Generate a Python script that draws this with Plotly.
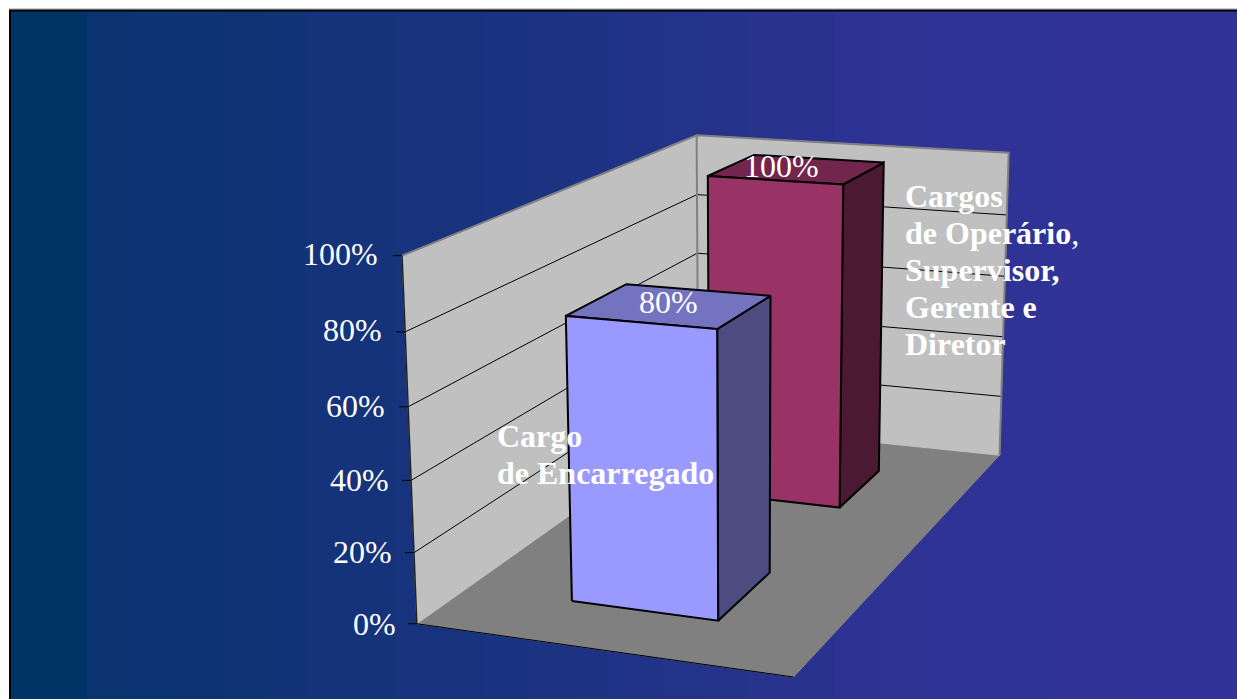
import numpy as np
import plotly.graph_objects as go

# ---- data ----
categories = ["Cargo de Encarregado", "Cargos de Operário, Supervisor, Gerente e Diretor"]
values = [80, 100]
value_labels = ["80%", "100%"]
tick_values = [0, 20, 40, 60, 80, 100]
tick_labels = ["0%", "20%", "40%", "60%", "80%", "100%"]
label_lines_1 = ["<b>Cargo</b>", "<b>de Encarregado</b>"]
label_lines_2 = ["<b>Cargos</b>", "<b>de Operário</b>,", "<b>Supervisor,</b>",
                 "<b>Gerente e</b>", "<b>Diretor</b>"]

# ---- style ----
FONT = "Liberation Serif, Times New Roman, serif"
FS = 32
FRONT = ["#9999FF", "#993366"]
TOP = ["#7373BF", "#73264D"]
SIDE = ["#4C4C80", "#4C1933"]
WALL = "#C0C0C0"
FLOOR = "#808080"

# ---- 3D view: box coordinates (u across, v depth, w height) to picture axes ----
calib_box = [(0, 0, 0), (1, 0, 0), (0, 1, 0), (1, 1, 0), (0, 0, 1), (0, 1, 1), (1, 1, 1),
             (0.297, 0.148, 0.8), (0.7, 0.148, 0.8), (0.7, 0.346, 0.8),
             (0.297, 0.654, 1), (0.7, 0.654, 1), (0.7, 0.851, 1),
             (0.297, 0.148, 0), (0.7, 0.148, 0), (0.7, 0.346, 0), (0.7, 0.654, 0), (0.7, 0.851, 0)]
calib_pic = [(417, 624), (793, 676), (699, 421.5), (1000, 457), (400, 257), (696, 136), (1008, 152),
             (568, 317), (719, 327), (772, 295),
             (708, 176), (842, 184), (884, 163),
             (572, 602), (718, 620), (768, 573), (838, 508), (880, 472)]
rows = []
for (u, v, w), (px, py) in zip(calib_box, calib_pic):
    rows.append([u, v, w, 1, 0, 0, 0, 0, -px * u, -px * v, -px * w, -px])
    rows.append([0, 0, 0, 0, u, v, w, 1, -py * u, -py * v, -py * w, -py])
P = np.linalg.svd(np.array(rows, float))[2][-1].reshape(3, 4)


def proj(u, v, w):
    x, y, s = P @ np.array([u, v, w, 1.0])
    return x / s, y / s


def poly(points, fill=None, line="black", width=2, closed=True):
    pts = [proj(*p) for p in points]
    if closed:
        pts.append(pts[0])
    return go.Scatter(x=[p[0] for p in pts], y=[p[1] for p in pts], mode="lines",
                      fill="toself" if fill else None, fillcolor=fill,
                      line=dict(color=line, width=width), hoverinfo="skip",
                      showlegend=False)


fig = go.Figure()

# floor and walls
fig.add_trace(poly([(0, 0, 0), (1, 0, 0), (1, 1, 0), (0, 1, 0)], FLOOR, FLOOR, 1))
fig.add_trace(poly([(0, 0, 0), (0, 1, 0), (0, 1, 1), (0, 0, 1)], WALL, WALL, 1))
fig.add_trace(poly([(0, 1, 0), (1, 1, 0), (1, 1, 1), (0, 1, 1)], WALL, WALL, 1))

# gridlines and ticks
for t in tick_values[1:-1]:
    w = t / 100
    fig.add_trace(poly([(0, 0, w), (0, 1, w), (1, 1, w)], None, "black", 1, closed=False))
fig.add_trace(poly([(0, 0, 1), (0, 1, 1), (1, 1, 1), (1, 1, 0)], None, "#808080", 2, closed=False))
fig.add_trace(poly([(0, 1, 0), (0, 1, 1)], None, "#808080", 2, closed=False))
fig.add_trace(poly([(0, 0, 0), (0, 0, 1)], None, "#222222", 1.5, closed=False))
fig.add_trace(poly([(0, 0, 0), (1, 0, 0)], None, "black", 1, closed=False))

annotations = []
for t, lab in zip(tick_values, tick_labels):
    x, y = proj(0, 0, t / 100)
    fig.add_trace(go.Scatter(x=[x - 9, x], y=[y, y], mode="lines", showlegend=False,
                             hoverinfo="skip", line=dict(color="black", width=1)))
    annotations.append(dict(x=x - 19 - 3 * t / 100, y=y - 2 * t / 100, text=lab,
                            xanchor="right", yanchor="middle", showarrow=False,
                            font=dict(family=FONT, size=FS, color="white")))

# bars, back one first
U0, U1 = 0.297, 0.700
V_SPANS = [(0.148, 0.346), (0.654, 0.851)]
LABEL_SHIFT = [(-1, -4), (-16, -3)]
for i in [1, 0]:
    v0, v1 = V_SPANS[i]
    w = values[i] / 100
    fig.add_trace(poly([(U1, v0, 0), (U1, v1, 0), (U1, v1, w), (U1, v0, w)], SIDE[i]))
    fig.add_trace(poly([(U0, v0, w), (U1, v0, w), (U1, v1, w), (U0, v1, w)], TOP[i]))
    fig.add_trace(poly([(U0, v0, 0), (U1, v0, 0), (U1, v0, w), (U0, v0, w)], FRONT[i]))
    cx, cy = proj((U0 + U1) / 2, (v0 + v1) / 2, w)
    annotations.append(dict(x=cx + LABEL_SHIFT[i][0], y=cy + LABEL_SHIFT[i][1],
                            text=value_labels[i], showarrow=False,
                            xanchor="center", yanchor="middle",
                            font=dict(family=FONT, size=FS, color="white")))

# category labels, one annotation per line
LINE_H = 36.9
for lines, left, top in [(label_lines_1, 495, 436), (label_lines_2, 903, 196)]:
    for k, line in enumerate(lines):
        annotations.append(dict(x=left, y=top + k * LINE_H, text=line, showarrow=False,
                                xanchor="left", yanchor="middle",
                                font=dict(family=FONT, size=FS, color="white")))

# stepped background
shapes = []
edges = [10, 87] + [87 + 44 * k for k in range(1, 26)] + [1237]
grad_x = [87, 300, 500, 700, 900, 1237]
grad_t = [0.2, 0.38, 0.52, 0.72, 0.92, 1.0]
for k in range(len(edges) - 1):
    t = 0.0 if k == 0 else float(np.interp(edges[k], grad_x, grad_t))
    col = f"rgb({round(51 * t)},51,{round(102 + 51 * t)})"
    shapes.append(dict(type="rect", xref="x", yref="y", x0=edges[k], x1=edges[k + 1],
                       y0=10, y1=699, fillcolor=col, line=dict(width=0), layer="below"))
shapes.append(dict(type="line", xref="x", yref="y", x0=9, x1=1237, y0=9, y1=9,
                   line=dict(color="#999999", width=1), layer="below"))
shapes.append(dict(type="line", xref="x", yref="y", x0=9, x1=1237, y0=10.5, y1=10.5,
                   line=dict(color="black", width=2), layer="below"))
shapes.append(dict(type="line", xref="x", yref="y", x0=10, x1=10, y0=10, y1=699,
                   line=dict(color="black", width=2), layer="below"))

fig.update_layout(
    width=1237, height=699, margin=dict(l=0, r=0, t=0, b=0),
    paper_bgcolor="white", plot_bgcolor="white", showlegend=False,
    shapes=shapes, annotations=annotations,
    xaxis=dict(range=[0, 1237], visible=False, fixedrange=True),
    yaxis=dict(range=[699, 0], visible=False, fixedrange=True),
)
fig.write_html("out.html", config={"displayModeBar": False},
               post_script="document.body.style.margin='0';document.body.style.overflow='hidden';")
